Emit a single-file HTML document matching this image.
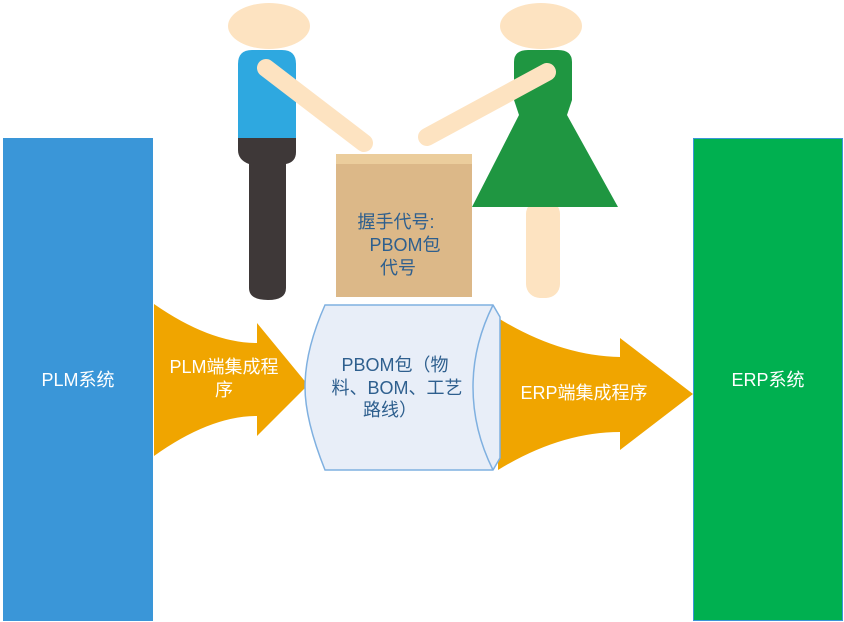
<!DOCTYPE html>
<html><head><meta charset="utf-8"><style>
html,body{margin:0;padding:0;background:#fff;}
svg{display:block;}
text{font-family:"Liberation Sans","Noto Sans CJK SC",sans-serif;}
</style></head><body>
<svg width="844" height="622" viewBox="0 0 844 622" xmlns="http://www.w3.org/2000/svg">
<rect x="3" y="138" width="150" height="483" fill="#3a96d8"/>
<text x="78" y="386" fill="#fff" font-size="18" text-anchor="middle">PLM系统</text>
<rect x="693.5" y="138.5" width="149" height="482" fill="#00b050" stroke="#3a96d8" stroke-width="1"/>
<text x="768" y="386" fill="#fff" font-size="18" text-anchor="middle">ERP系统</text>

<ellipse cx="269" cy="26" rx="41" ry="23" fill="#fde3c1"/>
<path d="M238 138 V64 Q238 50 252 50 H282 Q296 50 296 64 V138 Z" fill="#2ea8e0"/>
<path d="M238 138 H296 V152 Q296 162 286 164 V288 Q286 300 268 300 Q249 300 249 288 V164 Q238 160 238 150 Z" fill="#3e3838"/>
<line x1="266" y1="68" x2="364" y2="143" stroke="#fde3c1" stroke-width="18" stroke-linecap="round"/>

<ellipse cx="541" cy="26" rx="41" ry="23" fill="#fde3c1"/>
<rect x="526" y="200" width="34" height="98" rx="14" fill="#fde3c1"/>
<path d="M514 62 Q514 50 528 50 H558 Q572 50 572 62 V100 L567 115 L618 207 H472 L519 115 L514 100 Z" fill="#1f9641"/>
<line x1="547" y1="72" x2="427" y2="137" stroke="#fde3c1" stroke-width="18" stroke-linecap="round"/>

<rect x="336" y="154" width="136" height="143" fill="#dcb888"/>
<rect x="336" y="154" width="136" height="10" fill="#ebcd9c"/>
<g fill="#2e5f8e" font-size="18" text-anchor="middle">
<text x="396" y="228">握手代号:</text>
<text x="405" y="251">PBOM包</text>
<text x="398" y="274">代号</text>
</g>

<path d="M154 304 Q210 343 257 343 V323 L308 385 L257 436 V416 Q210 416 154 456 Z" fill="#f0a500"/>
<g fill="#fff" font-size="18" text-anchor="middle">
<text x="224" y="373">PLM端集成程</text>
<text x="224" y="396">序</text>
</g>

<path d="M498 318 Q560 356 620 357 V338 L693 394 L620 450 V432 Q560 432 498 470 Z" fill="#f0a500"/>
<text x="584" y="399" fill="#fff" font-size="18" text-anchor="middle">ERP端集成程序</text>

<path d="M325 305 H493 L500 317 V458 L493 470 H325 Q305 420 305 387 Q305 350 325 305 Z" fill="#e8eef8" stroke="#7fb0e0" stroke-width="1.5"/>
<path d="M493 305 Q473 345 473 387 Q473 430 493 470" fill="none" stroke="#7fb0e0" stroke-width="1.5"/>
<g fill="#2e5f8e" font-size="18" text-anchor="middle">
<text x="395" y="371">PBOM包（物</text>
<text x="397" y="394">料、BOM、工艺</text>
<text x="390" y="416">路线）</text>
</g>
</svg>
</body></html>
